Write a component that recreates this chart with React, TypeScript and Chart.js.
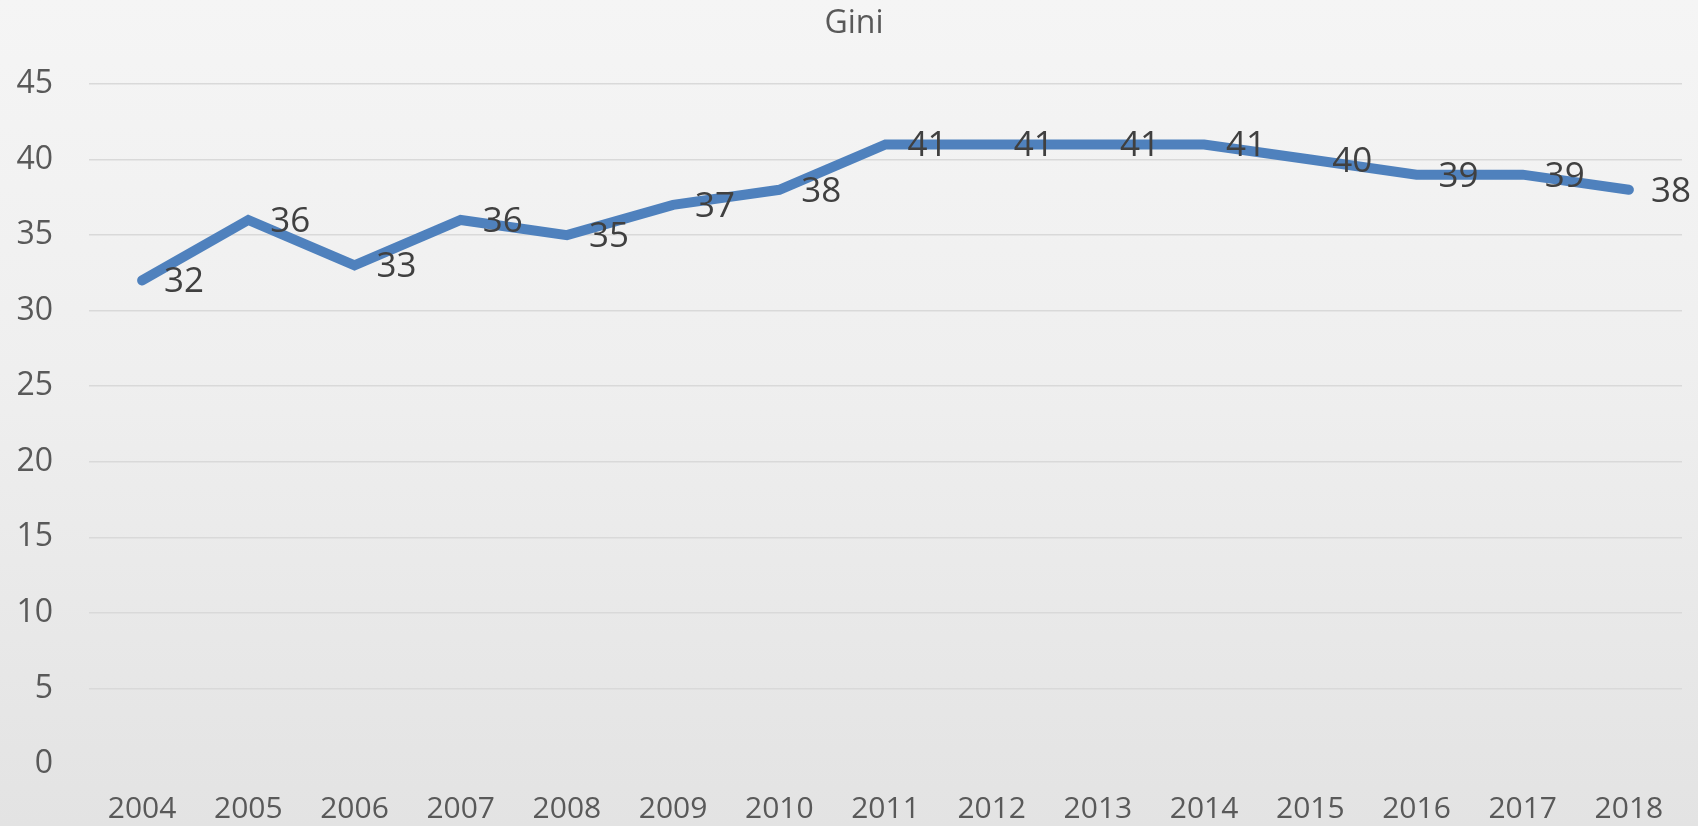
import React, { useEffect, useRef } from "react";
import { Chart, registerables } from "chart.js";

Chart.register(...registerables);

const years = ["2004", "2005", "2006", "2007", "2008", "2009", "2010", "2011", "2012", "2013", "2014", "2015", "2016", "2017", "2018"];
const giniValues = [32, 36, 33, 36, 35, 37, 38, 41, 41, 41, 41, 40, 39, 39, 38];
const titleText = "Gini";
const yMin = 0;
const yMax = 45;
const yStep = 5;

const FONT = "'Open Sans', 'Noto Sans', sans-serif";

const titlePlugin = {
  id: "centeredTitle",
  afterDraw(chart: any) {
    const ctx = chart.ctx;
    ctx.save();
    ctx.font = `32px ${FONT}`;
    ctx.fillStyle = "#595959";
    ctx.textAlign = "center";
    ctx.textBaseline = "middle";
    ctx.fillText(titleText, 854, 24);
    ctx.restore();
  },
};

const dataLabelPlugin = {
  id: "dataLabels",
  afterDatasetsDraw(chart: any) {
    const ctx = chart.ctx;
    const meta = chart.getDatasetMeta(0);
    const ds = chart.data.datasets[0];
    ctx.save();
    ctx.font = `35px ${FONT}`;
    ctx.fillStyle = "#404040";
    ctx.textAlign = "left";
    ctx.textBaseline = "middle";
    meta.data.forEach((pt: any, i: number) => {
      ctx.fillText(String(ds.data[i]), pt.x + 22, pt.y + 2);
    });
    ctx.restore();
  },
};

export default function App() {
  const ref = useRef<HTMLCanvasElement | null>(null);

  useEffect(() => {
    document.body.style.margin = "0";
    const canvas = ref.current;
    if (!canvas) return;
    const chart = new Chart(canvas, {
      type: "line",
      data: {
        labels: years,
        datasets: [
          {
            label: titleText,
            data: giniValues,
            borderColor: "#4f81bd",
            backgroundColor: "#4f81bd",
            borderWidth: 10,
            borderCapStyle: "round",
            pointRadius: 0,
            pointHoverRadius: 0,
            tension: 0,
            fill: false,
          },
        ],
      },
      options: {
        animation: false,
        responsive: false,
        maintainAspectRatio: false,
        layout: { padding: { left: 0, right: 16, top: 84, bottom: 0 } },
        plugins: {
          legend: { display: false },
          tooltip: { enabled: false },
          title: { display: false },
        },
        scales: {
          x: {
            offset: true,
            grid: { display: false, drawTicks: false },
            border: { display: false },
            ticks: {
              color: "#595959",
              font: { family: FONT, size: 30 },
              padding: 27,
              maxRotation: 0,
              autoSkip: false,
            },
            afterFit(scale: any) {
              scale.height = 62;
            },
          },
          y: {
            min: yMin,
            max: yMax,
            grid: {
              color: (c: any) => (c.tick && c.tick.value === 0 ? "rgba(0,0,0,0)" : "#d9d9d9"),
              lineWidth: 1.5,
              drawTicks: false,
            },
            border: { display: false },
            ticks: {
              stepSize: yStep,
              color: "#595959",
              font: { family: FONT, size: 32 },
              padding: 36,
            },
            afterFit(scale: any) {
              scale.width = 89;
            },
          },
        },
      },
      plugins: [dataLabelPlugin, titlePlugin],
    });
    return () => chart.destroy();
  }, []);

  return (
    <div
      style={{
        width: 1698,
        height: 826,
        background: "linear-gradient(180deg, #f5f5f5 0%, #efefef 45%, #e3e3e3 100%)",
      }}
    >
      <canvas ref={ref} width={1698} height={826} style={{ display: "block" }} />
    </div>
  );
}
